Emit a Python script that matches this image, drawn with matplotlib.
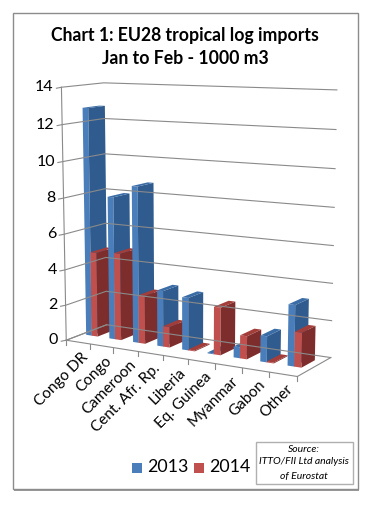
import matplotlib
matplotlib.use('Agg')
import matplotlib.pyplot as plt
from matplotlib.patches import Polygon, Rectangle
import numpy as np

plt.rcParams['font.family'] = ['Lato', 'DejaVu Sans']

categories = ['Congo DR', 'Congo', 'Cameroon', 'Cent. Afr. Rp.', 'Liberia',
              'Eq. Guinea', 'Myanmar', 'Gabon', 'Other']
values_2013 = [12.8, 8.0, 8.7, 3.1, 2.9, 0.05, 0.6, 1.4, 3.25]
values_2014 = [4.8, 4.9, 2.7, 1.15, 0.05, 2.6, 1.25, 0.05, 1.85]
y_ticks = [0, 2, 4, 6, 8, 10, 12, 14]

# corners of the 3d box: (u along categories, v depth, z value) -> picture pixels
box_3d = [(0, 0, 0), (1, 0, 0), (1, 1, 0), (0, 1, 0), (0, 0, 14), (0, 1, 14), (1, 1, 14)]
box_px = [(66, 340), (297, 377), (331, 357), (107, 325), (62, 87), (103, 83), (337, 90)]


#Fit the perspective matrix from the box corners
def fit_camera(pts3, pts2):
    rows = []
    rhs = []
    for (u, v, z), (px, py) in zip(pts3, pts2):
        z = z / 14
        rows.append([u, v, z, 1, 0, 0, 0, 0, -px * u, -px * v, -px * z])
        rows.append([0, 0, 0, 0, u, v, z, 1, -py * u, -py * v, -py * z])
        rhs += [px, py]
    sol = np.linalg.lstsq(np.array(rows, float), np.array(rhs, float), rcond=None)[0]
    return np.append(sol, 1).reshape(3, 4)


cam = fit_camera(box_3d, box_px)


def proj(u, v, z):
    p = cam @ np.array([u, v, z / 14, 1])
    return p[0] / p[2], p[1] / p[2]


fig = plt.figure(figsize=(3.77, 5.05), dpi=100)
ax = fig.add_axes([0, 0, 1, 1])
ax.set_xlim(0, 377)
ax.set_ylim(505, 0)
ax.axis('off')

# frame with its shadow
ax.add_patch(Rectangle((14, 14), 345, 477, fc='#9a9a9a', ec='none'))
ax.add_patch(Rectangle((13, 12.5), 345, 476.5, fc='white', ec='#8c8c8c', lw=1))

ax.text(185, 35, 'Chart 1: EU28 tropical log imports', ha='center', va='center',
        fontsize=12.7, fontweight='bold', color='black')
ax.text(185, 58, 'Jan to Feb - 1000 m3', ha='center', va='center',
        fontsize=12.7, fontweight='bold', color='black')

grid = '#8a8a8a'
n = len(categories)
for t in y_ticks:
    a, b, c = proj(0, 0, t), proj(0, 1, t), proj(1, 1, t)
    ax.plot([a[0] - 5, a[0], b[0], c[0]], [a[1] + 1, a[1], b[1], c[1]], color=grid, lw=0.8)
    ax.text(a[0] - 8, a[1], str(t), ha='right', va='center', fontsize=11.5)

# wall and floor edges
for s, e in [((0, 0, 0), (0, 0, 14)), ((0, 0, 0), (1, 0, 0)), ((1, 0, 0), (1, 1, 0)), ((0, 0, 0), (0, 1, 0))]:
    p, q = proj(*s), proj(*e)
    ax.plot([p[0], q[0]], [p[1], q[1]], color=grid, lw=0.8)

for i in range(n + 1):
    p = proj(i / n, 0, 0)
    ax.plot([p[0], p[0]], [p[1], p[1] + 5], color=grid, lw=0.8)


def draw_bar(i, a, b, val, front, side, top):
    u0, u1 = (i + a) / n, (i + b) / n
    v0, v1 = 0.38, 0.78
    ax.add_patch(Polygon([proj(u0, v0, 0), proj(u1, v0, 0), proj(u1, v0, val), proj(u0, v0, val)], fc=front, ec='none'))
    ax.add_patch(Polygon([proj(u1, v0, 0), proj(u1, v1, 0), proj(u1, v1, val), proj(u1, v0, val)], fc=side, ec='none'))
    ax.add_patch(Polygon([proj(u0, v0, val), proj(u1, v0, val), proj(u1, v1, val), proj(u0, v1, val)], fc=top, ec='none'))


for i in range(n):
    draw_bar(i, 0.18, 0.42, values_2013[i], '#4a7ebb', '#2f5b8f', '#3a6ca6')
    draw_bar(i, 0.42, 0.68, values_2014[i], '#c0504d', '#7d2e2c', '#a33d3a')

for i, name in enumerate(categories):
    p = proj((i + 0.5) / n, 0, 0)
    ax.text(p[0] + 3, p[1] + 8, name, rotation=45, rotation_mode='anchor', ha='right', va='top',
            fontsize=11)

# legend
ax.add_patch(Rectangle((132, 463), 10, 10, fc='#4a7ebb', ec='none'))
ax.text(147, 467, '2013', va='center', fontsize=12.8)
ax.add_patch(Rectangle((194, 463), 10, 10, fc='#c0504d', ec='none'))
ax.text(209, 467, '2014', va='center', fontsize=12.8)

# source note
ax.add_patch(Rectangle((256, 442), 97, 42, fc='white', ec='#b0b0b0', lw=1))
ax.text(304, 449, 'Source:', ha='center', va='center', fontsize=7.5, style='italic')
ax.text(304, 462, 'ITTO/FII Ltd analysis', ha='center', va='center', fontsize=7.5, style='italic')
ax.text(304, 476, 'of Eurostat', ha='center', va='center', fontsize=7.5, style='italic')

fig.savefig('out.png', dpi=100)
